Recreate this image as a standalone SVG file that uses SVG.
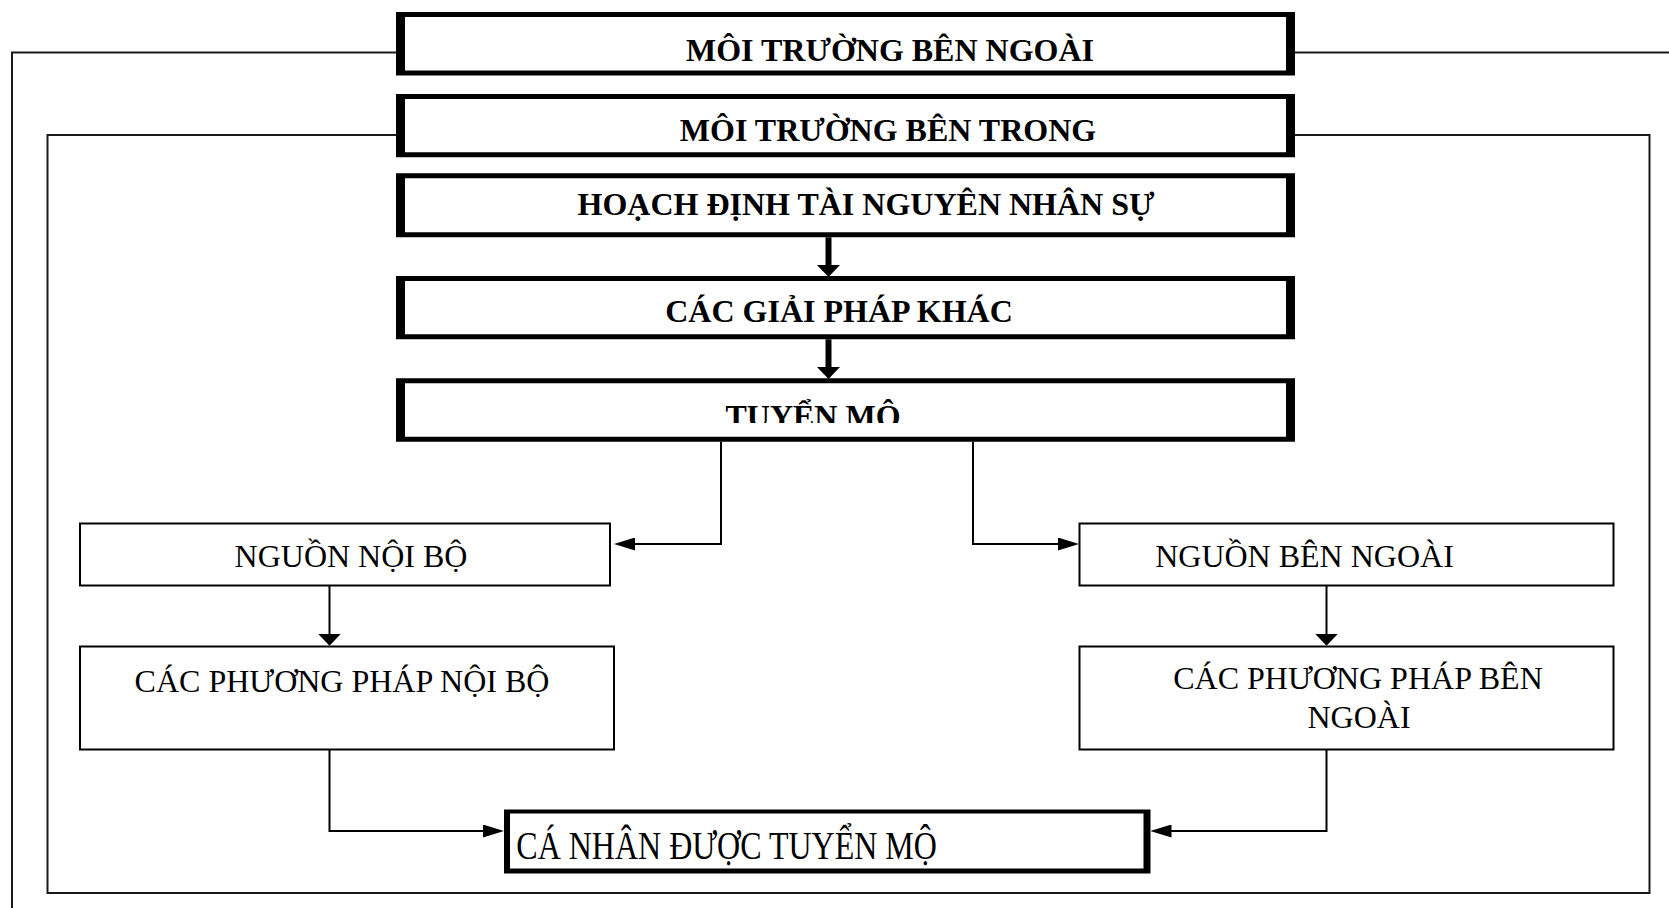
<svg xmlns="http://www.w3.org/2000/svg" width="1669" height="908" viewBox="0 0 1669 908">
<style>
  .t { font-family: "Liberation Serif", "Times New Roman", serif; font-size: 32px; fill: #000; text-anchor: middle; }
  .b { font-weight: bold; }
  .thick { fill: #000; fill-rule: evenodd; }
  .thin { fill: #fff; stroke: #000; stroke-width: 2; }
  .frame { fill: none; stroke: #1a1a1a; stroke-width: 2; }
  .c { fill: none; stroke: #000; stroke-width: 2; }
  .ct { fill: none; stroke: #000; stroke-width: 6; }
</style>
<defs>
  <marker id="mThick" viewBox="0 0 12 23" markerWidth="12" markerHeight="23" refX="1" refY="11.5" orient="auto" markerUnits="userSpaceOnUse">
    <path d="M0,0 L12,11.5 L0,23 Z" fill="#000"/>
  </marker>
  <marker id="mV" viewBox="0 0 12 23" markerWidth="12" markerHeight="23" refX="7" refY="11.5" orient="auto" markerUnits="userSpaceOnUse">
    <path d="M0,0 L12,11.5 L0,23 Z" fill="#000"/>
  </marker>
  <marker id="mH" viewBox="0 0 21 13" markerWidth="21" markerHeight="13" refX="13" refY="6.5" orient="auto" markerUnits="userSpaceOnUse">
    <path d="M0,0 L21,6.5 L0,13 Z" fill="#000"/>
  </marker>
  <clipPath id="clipTM">
    <rect x="405" y="383" width="881" height="40"/>
  </clipPath>
</defs>
<rect width="1669" height="908" fill="#fff"/>

<g id="frames">
  <path class="frame" d="M396 52.5 H12 V908 M1295 52.5 H1669"/>
  <path class="frame" d="M396 135 H47.5 V893 H1649.5 V135 H1295"/>
</g>

<g id="connectors">
  <path class="ct" d="M828.5 237.3 V266" marker-end="url(#mThick)"/>
  <path class="ct" d="M828.5 339.3 V368" marker-end="url(#mThick)"/>
  <path class="c" d="M721 441.7 V544 H622" marker-end="url(#mH)"/>
  <path class="c" d="M973 441.7 V544 H1071" marker-end="url(#mH)"/>
  <path class="c" d="M329.5 585.3 V640.7" marker-end="url(#mV)"/>
  <path class="c" d="M1326.5 585.3 V640.7" marker-end="url(#mV)"/>
  <path class="c" d="M329.5 749.3 V831 H496" marker-end="url(#mH)"/>
  <path class="c" d="M1326.5 749.3 V831 H1158.5" marker-end="url(#mH)"/>
</g>

<g id="node-moi-truong-ben-ngoai">
  <path class="thick" d="M396 12 H1295 V75.5 H396 Z M405 17 V70.5 H1286 V17 Z"/>
  <text class="t b" x="890" y="61">MÔI TRƯỜNG BÊN NGOÀI</text>
</g>
<g id="node-moi-truong-ben-trong">
  <path class="thick" d="M396 94 H1295 V157.3 H396 Z M405 99 V152.3 H1286 V99 Z"/>
  <text class="t b" x="888" y="141">MÔI TRƯỜNG BÊN TRONG</text>
</g>
<g id="node-hoach-dinh">
  <path class="thick" d="M396 173.3 H1295 V237.3 H396 Z M405 178.3 V232.3 H1286 V178.3 Z"/>
  <text class="t b" x="866" y="214.5">HOẠCH ĐỊNH TÀI NGUYÊN NHÂN SỰ</text>
</g>
<g id="node-giai-phap-khac">
  <path class="thick" d="M396 276 H1295 V339.3 H396 Z M405 281 V334.3 H1286 V281 Z"/>
  <text class="t b" x="839" y="321.7">CÁC GIẢI PHÁP KHÁC</text>
</g>
<g id="node-tuyen-mo">
  <path class="thick" d="M396 378.3 H1295 V441.7 H396 Z M405 383.3 V436.7 H1286 V383.3 Z"/>
  <text class="t b" x="813" y="426.7" clip-path="url(#clipTM)">TUYỂN MỘ</text>
</g>
<g id="node-nguon-noi-bo">
  <rect class="thin" x="80" y="523.5" width="530" height="62"/>
  <text class="t" x="351" y="566.7">NGUỒN NỘI BỘ</text>
</g>
<g id="node-nguon-ben-ngoai">
  <rect class="thin" x="1079.5" y="523.5" width="534" height="62"/>
  <text class="t" x="1304.5" y="566.7">NGUỒN BÊN NGOÀI</text>
</g>
<g id="node-pp-noi-bo">
  <rect class="thin" x="80" y="646.5" width="534" height="103"/>
  <text class="t" x="342" y="692.3">CÁC PHƯƠNG PHÁP NỘI BỘ</text>
</g>
<g id="node-pp-ben-ngoai">
  <rect class="thin" x="1079.5" y="646.5" width="534" height="103"/>
  <text class="t" x="1358" y="689">CÁC PHƯƠNG PHÁP BÊN</text>
  <text class="t" x="1359" y="728.3">NGOÀI</text>
</g>
<g id="node-ca-nhan">
  <path class="thick" d="M504 809.5 H1150.5 V873.5 H504 Z M510 813.5 V868.5 H1143.5 V813.5 Z"/>
  <text class="t" transform="translate(726.6 859) scale(1 1.22)" x="0" y="0">CÁ NHÂN ĐƯỢC TUYỂN MỘ</text>
</g>
</svg>
